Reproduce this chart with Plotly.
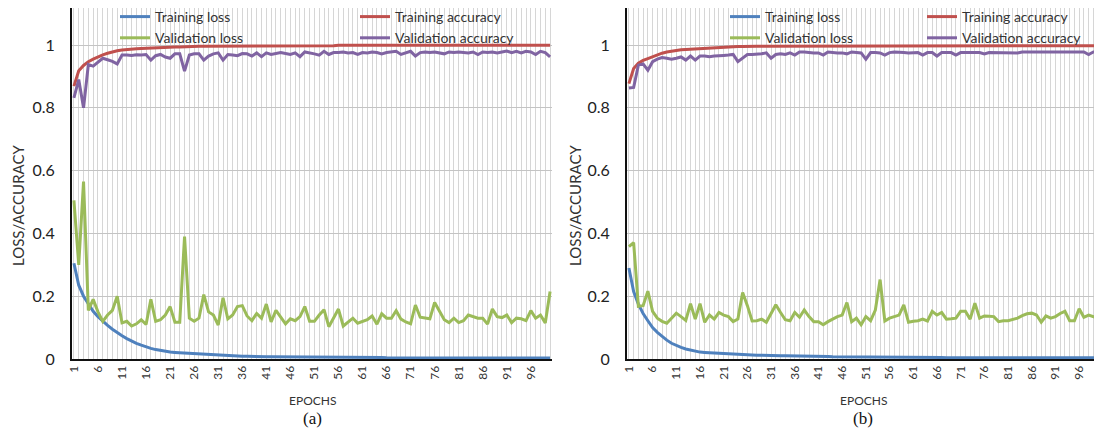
import plotly.graph_objects as go

epochs = list(range(1, 101))
xtick_vals = list(range(1, 100, 5))
xtick_text = [str(v) for v in xtick_vals]
ytick_vals = [0, 0.2, 0.4, 0.6, 0.8, 1.0]
ytick_text = ["0", "0.2", "0.4", "0.6", "0.8", "1"]

# ---------------- Panel (a) ----------------
a_train_loss = [0.305, 0.235, 0.200, 0.175, 0.152, 0.135, 0.120, 0.107, 0.095, 0.083,
                0.074, 0.065, 0.057, 0.050, 0.044, 0.038, 0.034, 0.030, 0.027, 0.024,
                0.022, 0.021, 0.020, 0.019, 0.018, 0.017, 0.016, 0.015, 0.014, 0.013,
                0.012, 0.011, 0.011, 0.010, 0.010, 0.009, 0.009, 0.008, 0.008, 0.008,
                0.007, 0.007, 0.007, 0.007, 0.007, 0.006, 0.006, 0.006, 0.006, 0.006,
                0.006, 0.006, 0.006, 0.005, 0.005, 0.005, 0.005, 0.005, 0.005, 0.005,
                0.005, 0.005, 0.005, 0.005, 0.005, 0.004, 0.004, 0.004, 0.004, 0.004,
                0.004, 0.004, 0.004, 0.004, 0.004, 0.004, 0.004, 0.004, 0.004, 0.004,
                0.004, 0.004, 0.004, 0.003, 0.003, 0.003, 0.003, 0.003, 0.003, 0.003,
                0.003, 0.003, 0.003, 0.003, 0.003, 0.003, 0.003, 0.003, 0.003, 0.003]
a_train_acc = [0.869, 0.918, 0.935, 0.947, 0.955, 0.963, 0.969, 0.974, 0.979, 0.982,
               0.984, 0.986, 0.987, 0.988, 0.989, 0.990, 0.991, 0.992, 0.992, 0.993,
               0.994, 0.994, 0.994, 0.995, 0.995, 0.996, 0.996, 0.996, 0.996, 0.996,
               0.997, 0.997, 0.997, 0.997, 0.997, 0.997, 0.997, 0.997, 0.997, 0.997,
               0.998, 0.998, 0.998, 0.998, 0.998, 0.998, 0.998, 0.998, 0.998, 0.998,
               0.998, 0.998, 0.998, 0.998, 0.998, 0.999, 0.999, 0.999, 0.999, 0.999,
               0.999, 0.999, 0.999, 0.999, 0.999, 0.999, 0.999, 0.999, 0.999, 0.999,
               0.999, 0.999, 0.999, 0.999, 0.999, 0.999, 0.999, 0.999, 0.999, 0.999,
               0.999, 0.999, 0.999, 0.999, 0.999, 0.999, 0.999, 0.999, 0.999, 0.999,
               0.999, 0.999, 0.999, 0.999, 0.999, 0.999, 0.999, 0.999, 0.999, 0.999]
a_val_loss = [0.505, 0.300, 0.565, 0.155, 0.190, 0.150, 0.120, 0.140, 0.155, 0.200,
              0.115, 0.120, 0.105, 0.112, 0.125, 0.110, 0.190, 0.120, 0.125, 0.140,
              0.167, 0.117, 0.117, 0.390, 0.130, 0.120, 0.130, 0.205, 0.150, 0.140,
              0.108, 0.195, 0.128, 0.140, 0.167, 0.170, 0.137, 0.122, 0.145, 0.130,
              0.175, 0.118, 0.155, 0.135, 0.112, 0.128, 0.122, 0.135, 0.167, 0.120,
              0.120, 0.140, 0.157, 0.103, 0.130, 0.159, 0.105, 0.118, 0.130, 0.114,
              0.120, 0.125, 0.137, 0.111, 0.144, 0.130, 0.130, 0.154, 0.127, 0.118,
              0.112, 0.172, 0.133, 0.130, 0.128, 0.180, 0.150, 0.125, 0.116, 0.130,
              0.116, 0.122, 0.140, 0.135, 0.130, 0.130, 0.111, 0.159, 0.135, 0.132,
              0.140, 0.116, 0.130, 0.128, 0.122, 0.154, 0.130, 0.140, 0.115, 0.215]
a_val_acc = [0.832, 0.890, 0.800, 0.938, 0.933, 0.945, 0.958, 0.953, 0.948, 0.940,
             0.968, 0.968, 0.967, 0.969, 0.968, 0.970, 0.952, 0.966, 0.970, 0.962,
             0.958, 0.972, 0.972, 0.917, 0.968, 0.972, 0.972, 0.952, 0.965, 0.972,
             0.975, 0.952, 0.970, 0.968, 0.966, 0.973, 0.972, 0.965, 0.975, 0.963,
             0.975, 0.970, 0.972, 0.976, 0.973, 0.970, 0.975, 0.963, 0.978, 0.976,
             0.972, 0.968, 0.980, 0.970, 0.976, 0.976, 0.978, 0.975, 0.976, 0.970,
             0.976, 0.975, 0.978, 0.976, 0.972, 0.976, 0.978, 0.980, 0.970, 0.976,
             0.980, 0.965, 0.976, 0.978, 0.976, 0.978, 0.976, 0.972, 0.978, 0.976,
             0.978, 0.976, 0.975, 0.978, 0.970, 0.978, 0.976, 0.978, 0.975, 0.978,
             0.981, 0.976, 0.980, 0.975, 0.980, 0.978, 0.970, 0.980, 0.976, 0.962]

# ---------------- Panel (b) ----------------
b_train_loss = [0.290, 0.215, 0.175, 0.145, 0.122, 0.100, 0.085, 0.072, 0.060, 0.050,
                0.043, 0.037, 0.032, 0.028, 0.025, 0.022, 0.021, 0.020, 0.019, 0.018,
                0.017, 0.016, 0.015, 0.015, 0.014, 0.013, 0.013, 0.012, 0.012, 0.011,
                0.011, 0.011, 0.010, 0.010, 0.010, 0.009, 0.009, 0.009, 0.009, 0.008,
                0.008, 0.008, 0.008, 0.007, 0.007, 0.007, 0.007, 0.007, 0.007, 0.006,
                0.006, 0.006, 0.006, 0.006, 0.006, 0.006, 0.005, 0.005, 0.005, 0.005,
                0.005, 0.005, 0.005, 0.005, 0.005, 0.005, 0.005, 0.004, 0.004, 0.004,
                0.004, 0.004, 0.004, 0.004, 0.004, 0.004, 0.004, 0.004, 0.004, 0.004,
                0.004, 0.004, 0.004, 0.004, 0.004, 0.004, 0.004, 0.004, 0.004, 0.004,
                0.004, 0.004, 0.004, 0.004, 0.004, 0.004, 0.004, 0.004, 0.004, 0.004]
b_train_acc = [0.877, 0.925, 0.942, 0.951, 0.957, 0.963, 0.968, 0.974, 0.978, 0.981,
               0.983, 0.985, 0.986, 0.987, 0.988, 0.989, 0.990, 0.991, 0.992, 0.993,
               0.994, 0.994, 0.995, 0.995, 0.995, 0.996, 0.996, 0.996, 0.996, 0.996,
               0.997, 0.997, 0.997, 0.997, 0.997, 0.997, 0.997, 0.997, 0.997, 0.997,
               0.997, 0.997, 0.997, 0.997, 0.997, 0.997, 0.997, 0.997, 0.997, 0.997,
               0.998, 0.998, 0.998, 0.998, 0.998, 0.998, 0.998, 0.998, 0.998, 0.998,
               0.998, 0.998, 0.998, 0.998, 0.998, 0.998, 0.998, 0.998, 0.998, 0.998,
               0.998, 0.998, 0.998, 0.998, 0.998, 0.998, 0.998, 0.998, 0.998, 0.998,
               0.998, 0.998, 0.998, 0.998, 0.998, 0.998, 0.998, 0.998, 0.998, 0.998,
               0.998, 0.998, 0.998, 0.998, 0.998, 0.998, 0.998, 0.998, 0.998, 0.998]
b_val_loss = [0.358, 0.371, 0.168, 0.170, 0.216, 0.152, 0.130, 0.120, 0.114, 0.130,
              0.146, 0.135, 0.123, 0.176, 0.127, 0.176, 0.117, 0.140, 0.127, 0.148,
              0.140, 0.135, 0.119, 0.127, 0.212, 0.170, 0.121, 0.122, 0.127, 0.117,
              0.145, 0.173, 0.148, 0.125, 0.122, 0.148, 0.133, 0.156, 0.135, 0.119,
              0.119, 0.109, 0.119, 0.127, 0.135, 0.140, 0.180, 0.119, 0.130, 0.109,
              0.135, 0.122, 0.156, 0.253, 0.121, 0.130, 0.135, 0.140, 0.172, 0.117,
              0.120, 0.122, 0.127, 0.121, 0.152, 0.140, 0.148, 0.127, 0.128, 0.130,
              0.152, 0.152, 0.127, 0.178, 0.130, 0.137, 0.136, 0.135, 0.119, 0.122,
              0.122, 0.125, 0.130, 0.138, 0.144, 0.146, 0.140, 0.117, 0.137, 0.130,
              0.135, 0.145, 0.152, 0.122, 0.122, 0.160, 0.133, 0.140, 0.135, 0.130]
b_val_acc = [0.863, 0.865, 0.936, 0.940, 0.920, 0.947, 0.955, 0.960, 0.958, 0.955,
             0.958, 0.962, 0.952, 0.965, 0.952, 0.965, 0.965, 0.963, 0.965, 0.967,
             0.967, 0.968, 0.970, 0.947, 0.960, 0.970, 0.970, 0.970, 0.972, 0.975,
             0.958, 0.970, 0.972, 0.970, 0.975, 0.968, 0.978, 0.978, 0.976, 0.975,
             0.975, 0.968, 0.978, 0.976, 0.975, 0.975, 0.972, 0.978, 0.976, 0.975,
             0.955, 0.976, 0.976, 0.975, 0.968, 0.976, 0.978, 0.976, 0.976, 0.975,
             0.975, 0.976, 0.968, 0.976, 0.976, 0.965, 0.976, 0.975, 0.976, 0.968,
             0.976, 0.976, 0.975, 0.976, 0.976, 0.972, 0.976, 0.976, 0.976, 0.975,
             0.976, 0.976, 0.975, 0.978, 0.978, 0.976, 0.976, 0.978, 0.978, 0.976,
             0.976, 0.978, 0.978, 0.976, 0.976, 0.978, 0.978, 0.970, 0.978, 0.976]

BLUE, RED, GREEN, PURPLE = "#4F81BD", "#C0504D", "#9BBB59", "#8064A2"
FONT = "Lato, 'Open Sans', sans-serif"
# The page body has an 8px margin, so the figure is drawn 8px smaller and
# screen coordinates are converted with this offset.
OFF = 8
W, H = 1102 - OFF, 429 - OFF

def px(xs):
    return (xs - OFF) / W

def py(ys):
    return 1 - (ys - OFF) / H

fig = go.Figure()

def add_panel(xa, ya, tl, ta, vl, va, leg_left, leg_right):
    fig.add_trace(go.Scatter(x=epochs, y=tl, name="Training loss", mode="lines",
                             line=dict(color=BLUE, width=3), xaxis=xa, yaxis=ya, legend=leg_left))
    fig.add_trace(go.Scatter(x=epochs, y=ta, name="Training accuracy", mode="lines",
                             line=dict(color=RED, width=3), xaxis=xa, yaxis=ya, legend=leg_right))
    fig.add_trace(go.Scatter(x=epochs, y=vl, name="Validation loss", mode="lines",
                             line=dict(color=GREEN, width=3), xaxis=xa, yaxis=ya, legend=leg_left))
    fig.add_trace(go.Scatter(x=epochs, y=va, name="Validation accuracy", mode="lines",
                             line=dict(color=PURPLE, width=3), xaxis=xa, yaxis=ya, legend=leg_right))

add_panel("x", "y", a_train_loss, a_train_acc, a_val_loss, a_val_acc, "legend", "legend2")
add_panel("x2", "y2", b_train_loss, b_train_acc, b_val_loss, b_val_acc, "legend3", "legend4")

def xaxis_cfg(x0, x1, anchor):
    return dict(domain=[px(x0), px(x1)], range=[0.6, 100.4], anchor=anchor,
                tickmode="array", tickvals=xtick_vals, ticktext=xtick_text, tickangle=-90,
                tickfont=dict(family=FONT, size=12, color="#333333"),
                showgrid=True, gridcolor="#d6d6d6", gridwidth=1,
                minor=dict(tickmode="linear", tick0=1, dtick=1, showgrid=True,
                           gridcolor="#d6d6d6", gridwidth=1, ticks=""),
                showline=True, linecolor="#111111", linewidth=2, zeroline=False, ticks="",
                automargin=False, fixedrange=True)

def yaxis_cfg(anchor):
    return dict(domain=[py(359), py(8)], range=[0, 1.118], anchor=anchor,
                tickmode="array", tickvals=ytick_vals, ticktext=ytick_text,
                tickfont=dict(family=FONT, size=16, color="#222222"),
                showgrid=True, gridcolor="#c4c4c4", gridwidth=1,
                showline=True, linecolor="#111111", linewidth=2, zeroline=False, ticks="",
                ticklabelstandoff=12, automargin=False, fixedrange=True)

def legend_cfg(xs, shift):
    return dict(x=px(xs), y=1 + shift / H, xanchor="left", yanchor="top",
                orientation="v", bgcolor="rgba(0,0,0,0)", borderwidth=0,
                font=dict(family=FONT, size=14, color="#333333"), tracegroupgap=0,
                itemclick=False, itemdoubleclick=False)

annos = []
for cx, lab, ytx in [((72 + 552) / 2, "(a)", 18), ((627 + 1100) / 2, "(b)", 575)]:
    annos.append(dict(x=px(ytx), y=py(206), xref="paper", yref="paper", text="LOSS/ACCURACY",
                      xanchor="center", yanchor="middle", textangle=-90, showarrow=False,
                      font=dict(family=FONT, size=15, color="#333333")))
    annos.append(dict(x=px(cx), y=py(400), xref="paper", yref="paper", text="EPOCHS",
                      xanchor="center", yanchor="middle", showarrow=False,
                      font=dict(family=FONT, size=12, color="#333333")))
    annos.append(dict(x=px(cx), y=py(418), xref="paper", yref="paper", text=lab,
                      xanchor="center", yanchor="middle", showarrow=False,
                      font=dict(family="'Liberation Serif', 'DejaVu Serif', serif",
                                size=17, color="#111111")))

fig.update_layout(
    width=W, height=H, autosize=False,
    margin=dict(l=0, r=0, t=0, b=0, autoexpand=False),
    paper_bgcolor="white", plot_bgcolor="white",
    xaxis=xaxis_cfg(72, 552, "y"), yaxis=yaxis_cfg("x"),
    xaxis2=xaxis_cfg(627, 1100, "y2"), yaxis2=yaxis_cfg("x2"),
    legend=legend_cfg(115, 7), legend2=legend_cfg(355, 7),
    legend3=legend_cfg(725, 7), legend4=legend_cfg(922, 7),
    showlegend=True,
    annotations=annos,
)

fig.write_html("out.html")
